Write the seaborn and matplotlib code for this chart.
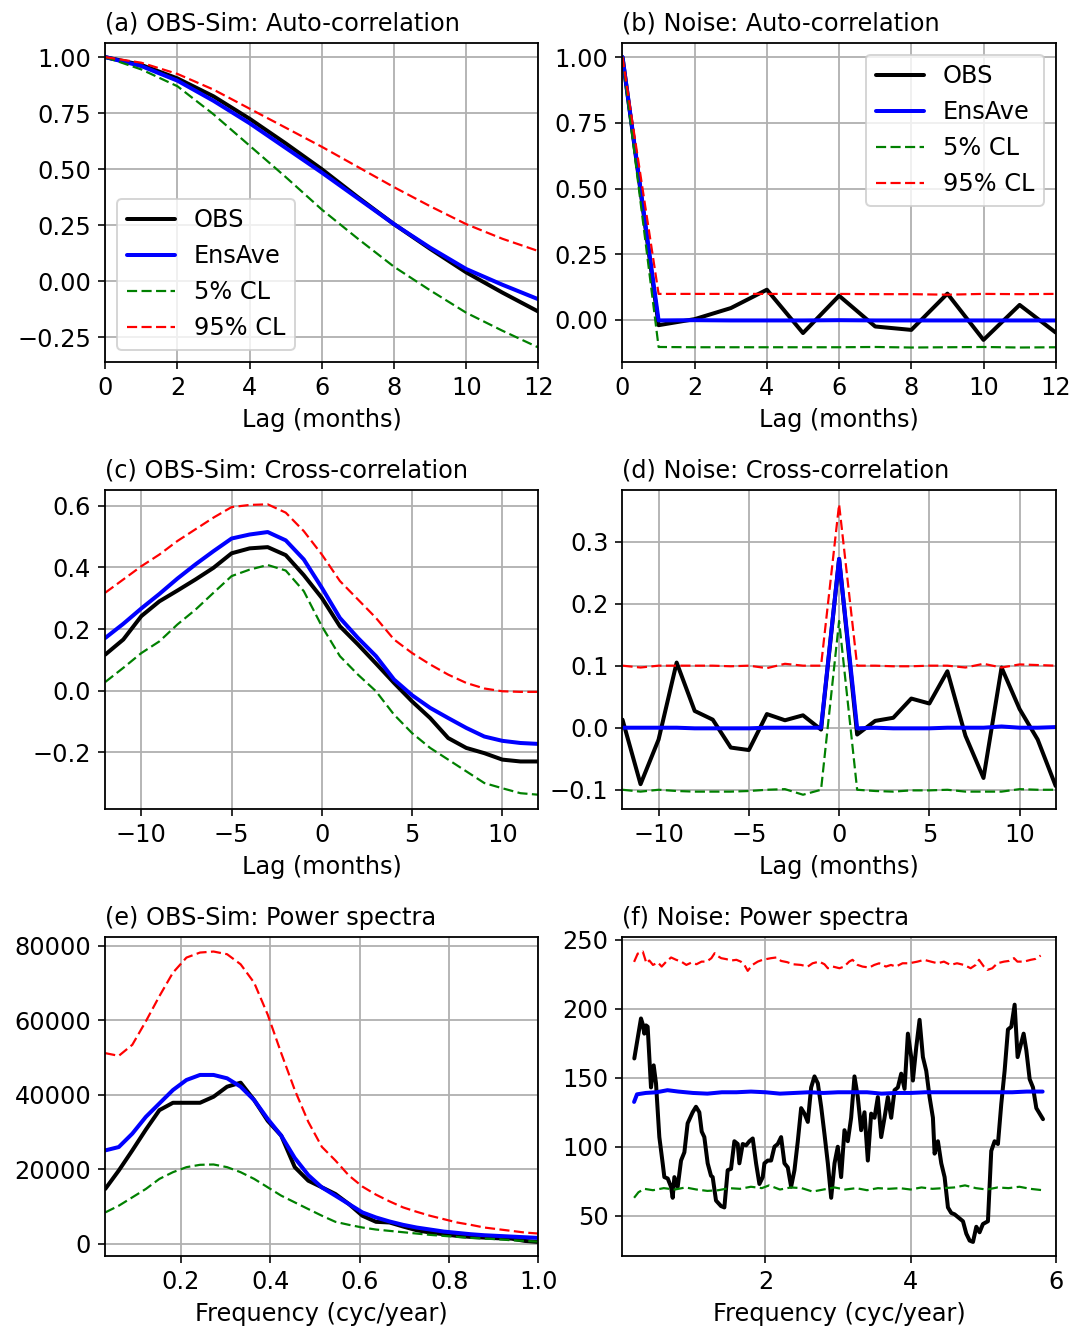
"""
Noise vs OBS-Sim diagnostics: auto-correlation, cross-correlation, power spectra.
Output: out.png
"""

import numpy as np
import pandas as pd
import matplotlib
matplotlib.use("Agg")
import matplotlib.pyplot as plt
import seaborn as sns

# ---- (a) OBS-Sim auto-correlation, lag 0..12 months
acf_lag = [0, 1, 2, 3, 4, 5, 6, 7, 8, 9, 10, 11, 12]
acf_obs = [1.0, 0.965, 0.905, 0.825, 0.725, 0.615, 0.50, 0.375, 0.255, 0.145, 0.04, -0.05, -0.135]
acf_ens = [1.0, 0.96, 0.895, 0.805, 0.705, 0.595, 0.485, 0.37, 0.255, 0.15, 0.055, -0.015, -0.08]
acf_lo = [1.0, 0.945, 0.87, 0.745, 0.605, 0.465, 0.32, 0.19, 0.065, -0.04, -0.14, -0.22, -0.295]
acf_hi = [1.0, 0.975, 0.925, 0.855, 0.77, 0.685, 0.60, 0.51, 0.42, 0.335, 0.255, 0.19, 0.135]

# ---- (b) Noise auto-correlation
nacf_obs = [1.0, -0.02, 0.003, 0.045, 0.115, -0.05, 0.092, -0.025, -0.038, 0.10, -0.076, 0.057, -0.048]
nacf_ens = [1.0, -0.002, -0.001, -0.002, -0.002, -0.002, -0.001, -0.002, -0.002, -0.002, -0.002, -0.002, -0.002]
nacf_lo = [1.0, -0.103, -0.104, -0.104, -0.104, -0.104, -0.104, -0.103, -0.105, -0.104, -0.103, -0.105, -0.104]
nacf_hi = [1.0, 0.099, 0.099, 0.099, 0.099, 0.099, 0.099, 0.098, 0.098, 0.096, 0.099, 0.098, 0.099]

# ---- (c) OBS-Sim cross-correlation, lag -12..12 months
ccf_lag = [-12, -11, -10, -9, -8, -7, -6, -5, -4, -3, -2, -1, 0,
           1, 2, 3, 4, 5, 6, 7, 8, 9, 10, 11, 12]
ccf_obs = [0.117, 0.166, 0.242, 0.29, 0.325, 0.361, 0.399, 0.446, 0.462, 0.466, 0.44, 0.375, 0.301,
           0.209, 0.15, 0.088, 0.025, -0.035, -0.089, -0.154, -0.186, -0.203, -0.224, -0.23, -0.23]
ccf_ens = [0.171, 0.217, 0.267, 0.314, 0.364, 0.41, 0.453, 0.494, 0.507, 0.515, 0.488, 0.426, 0.334,
           0.236, 0.171, 0.112, 0.036, -0.015, -0.056, -0.089, -0.121, -0.149, -0.163, -0.17, -0.173]
ccf_lo = [0.028, 0.074, 0.122, 0.16, 0.215, 0.263, 0.318, 0.372, 0.393, 0.408, 0.39, 0.323, 0.209,
          0.112, 0.052, -0.002, -0.078, -0.138, -0.186, -0.224, -0.262, -0.3, -0.317, -0.333, -0.338]
ccf_hi = [0.318, 0.361, 0.404, 0.442, 0.486, 0.524, 0.562, 0.596, 0.603, 0.605, 0.578, 0.518, 0.442,
          0.356, 0.296, 0.236, 0.166, 0.122, 0.085, 0.052, 0.025, 0.007, -0.002, -0.004, -0.004]

# ---- (d) Noise cross-correlation
nccf_obs = [0.013, -0.091, -0.019, 0.105, 0.027, 0.013, -0.032, -0.036, 0.022, 0.012, 0.02, -0.003, 0.272,
            -0.011, 0.011, 0.016, 0.047, 0.039, 0.091, -0.013, -0.081, 0.097, 0.03, -0.019, -0.094]
nccf_ens = [0.0, 0.0, 0.0, 0.0, -0.001, -0.001, -0.001, -0.001, 0.0, 0.0, 0.0, 0.0, 0.272,
            -0.001, 0.0, -0.001, -0.001, -0.001, 0.0, 0.0, 0.0, 0.002, 0.0, 0.0, 0.001]
nccf_lo = [-0.1, -0.103, -0.1, -0.102, -0.103, -0.103, -0.103, -0.102, -0.1, -0.099, -0.108, -0.1, 0.172,
           -0.1, -0.102, -0.103, -0.101, -0.101, -0.1, -0.103, -0.103, -0.103, -0.099, -0.1, -0.1]
nccf_hi = [0.1, 0.097, 0.1, 0.1, 0.1, 0.1, 0.099, 0.1, 0.096, 0.103, 0.1, 0.1, 0.36,
           0.1, 0.1, 0.099, 0.099, 0.1, 0.1, 0.097, 0.103, 0.097, 0.102, 0.101, 0.1]

# ---- (e) OBS-Sim power spectra, frequency k/33 cyc/year
psd_freq = np.arange(1, 34) / 33.0
psd_obs = [14685, 19640, 25045, 30630, 35856, 37838, 37838, 37838, 39460, 42160, 43240,
           38560, 33000, 29000, 20540, 16900, 15135, 13333, 10630, 7477, 5856, 5676,
           4595, 3604, 2973, 2523, 2072, 1802, 1622, 1441, 1351, 720, 450]
psd_ens = [25045, 25946, 29550, 34054, 37658, 41261, 43964, 45315, 45315, 44414, 42162,
           38558, 33500, 29000, 23000, 18400, 15100, 12883, 10630, 8378, 7027, 5946,
           5045, 4324, 3784, 3243, 2883, 2523, 2252, 2072, 1892, 1712, 1532]
psd_lo = [8378, 10180, 12432, 14685, 17387, 19189, 20540, 21171, 21261, 20540, 19189,
          17387, 15135, 12883, 11081, 9279, 7500, 5856, 5045, 4324, 3784, 3423,
          3063, 2703, 2342, 2072, 1802, 1532, 1351, 1171, 901, 720, 540]
psd_hi = [51171, 50450, 53423, 59730, 66486, 72793, 76847, 78198, 78468, 77748, 75045,
          70090, 61531, 51171, 41261, 32703, 26000, 22342, 18288, 15315, 13153, 11351,
          9730, 8559, 7477, 6577, 5676, 5045, 4324, 3874, 3423, 2973, 2703]

# ---- (f) Noise power spectra
npsd_obs_f = [0.193, 0.285, 0.308, 0.331, 0.354, 0.377, 0.423, 0.46, 0.492, 0.538, 0.584, 0.607,
              0.653, 0.699, 0.722, 0.745, 0.791, 0.837, 0.883, 0.928, 0.997, 1.043, 1.089, 1.122,
              1.158, 1.204, 1.25, 1.273, 1.319, 1.388, 1.434, 1.48, 1.526, 1.572, 1.618, 1.641,
              1.687, 1.733, 1.779, 1.825, 1.871, 1.917, 1.963, 1.986, 2.032, 2.078, 2.124, 2.17,
              2.216, 2.262, 2.308, 2.354, 2.4, 2.446, 2.492, 2.538, 2.584, 2.63, 2.676, 2.722,
              2.768, 2.814, 2.86, 2.906, 2.952, 2.997, 3.043, 3.089, 3.135, 3.181, 3.227, 3.273,
              3.319, 3.365, 3.411, 3.457, 3.503, 3.549, 3.595, 3.641, 3.687, 3.733, 3.779, 3.825,
              3.871, 3.917, 3.963, 4.009, 4.032, 4.078, 4.124, 4.17, 4.216, 4.262, 4.308, 4.331,
              4.377, 4.423, 4.469, 4.515, 4.561, 4.607, 4.653, 4.722, 4.768, 4.814, 4.86, 4.906,
              4.951, 4.997, 5.066, 5.112, 5.158, 5.204, 5.25, 5.296, 5.342, 5.388, 5.434, 5.475,
              5.558, 5.595, 5.641, 5.687, 5.733, 5.779, 5.825]
npsd_obs = [164, 193, 189, 182, 188, 187, 143, 159, 146, 107, 88, 78,
            77, 71, 63, 78, 71, 90, 96, 117, 125, 129, 125, 111,
            107, 88, 79, 78, 61, 57, 56, 83, 84, 104, 102, 88,
            102, 101, 104, 106, 88, 73, 78, 88, 90, 90, 100, 102,
            107, 88, 85, 71, 83, 104, 128, 124, 118, 143, 151, 146,
            129, 109, 88, 63, 88, 100, 78, 112, 104, 121, 151, 136,
            112, 125, 90, 124, 121, 136, 107, 121, 136, 121, 141, 143,
            153, 142, 182, 165, 148, 172, 192, 165, 155, 136, 121, 95,
            104, 88, 78, 56, 52, 51, 49, 46, 37, 32, 31, 42,
            38, 44, 46, 97, 104, 102, 131, 155, 185, 187, 203, 165,
            182, 170, 149, 143, 128, 124, 120]

npsd_ens_f = [0.19, 0.23, 0.35, 0.5, 0.65, 0.8, 1.0, 1.2, 1.4, 1.6, 1.8, 2.0, 2.2, 2.4, 2.6,
              2.8, 3.0, 3.2, 3.4, 3.6, 3.8, 4.0, 4.2, 4.4, 4.6, 4.8, 5.0, 5.2, 5.4, 5.6, 5.82]
npsd_ens = [132.5, 138, 139, 139.5, 141, 140, 139, 138.5, 139.5, 139.5, 140, 139.5, 138.5, 139, 139.5,
            139, 139.5, 139.5, 139.5, 138.5, 139, 139, 139.5, 139.5, 139.5, 139.5, 139.5, 139.5, 139.5, 140, 140]

npsd_lo_f = [0.19, 0.25, 0.33, 0.45, 0.6, 0.75, 0.9, 1.05, 1.2, 1.35, 1.5, 1.65, 1.8, 1.95,
             2.05, 2.2, 2.35, 2.5, 2.65, 2.8, 2.95, 3.1, 3.25, 3.4, 3.55, 3.7, 3.85, 4.0,
             4.15, 4.3, 4.45, 4.6, 4.75, 4.9, 5.05, 5.2, 5.35, 5.5, 5.65, 5.82]
npsd_lo = [63, 67, 69.5, 68.5, 70, 69, 70.5, 69, 68, 68.5, 70, 69.5, 71, 70,
           72, 69, 70.5, 70, 67.5, 69, 70.5, 69, 70, 68.5, 70, 69.5, 70, 69,
           70.5, 69.5, 70, 70.5, 72, 70, 69, 70.5, 70, 71, 69.5, 68.5]

npsd_hi_f = [0.19, 0.24, 0.31, 0.36, 0.40, 0.45, 0.52, 0.57, 0.63, 0.70, 0.77, 0.84, 0.91, 0.98,
             1.05, 1.12, 1.19, 1.255, 1.30, 1.35, 1.39, 1.46, 1.53, 1.60, 1.66, 1.71, 1.756, 1.82,
             1.894, 1.96, 2.078, 2.15, 2.216, 2.30, 2.376, 2.49, 2.583, 2.65, 2.74, 2.813, 2.86,
             2.93, 3.02, 3.085, 3.154, 3.2, 3.27, 3.338, 3.43, 3.50, 3.568, 3.66, 3.73, 3.797,
             3.89, 3.982, 4.096, 4.188, 4.28, 4.372, 4.46, 4.55, 4.64, 4.736, 4.828, 4.897, 4.943,
             5.01, 5.058, 5.127, 5.196, 5.288, 5.356, 5.425, 5.472, 5.564, 5.655, 5.724, 5.793]
npsd_hi = [234, 240, 241.5, 233, 235, 231.8, 233.5, 230.6, 234, 237.2, 235.5, 234.2, 231.8, 233.5,
           232.3, 234.2, 234.2, 236.7, 240.3, 238, 236.7, 236, 235, 235.5, 234.2, 231.8, 227.5, 231.8,
           234.2, 235.5, 236.7, 237.2, 234.7, 233.8, 232.3, 231.8, 230.6, 233, 234.2, 232.3, 229.4,
           230.6, 229.4, 230.6, 234.2, 235.5, 231.8, 230.6, 229.9, 231.8, 233, 230.6, 231.8, 230.6,
           233, 233, 234.2, 235.5, 234.2, 233, 234.2, 231.8, 233, 231.8, 229.4, 231.8, 235.5,
           230.6, 228.2, 229.4, 233, 234.2, 234.7, 236.7, 234.2, 234.2, 235.5, 236.2, 238.6]

# ---- style
sns.set_theme(style="ticks", rc={
    "font.size": 12, "axes.titlesize": 12, "axes.labelsize": 12,
    "xtick.labelsize": 12, "ytick.labelsize": 12, "legend.fontsize": 12,
    "axes.edgecolor": "black", "axes.linewidth": 0.9,
    "xtick.color": "black", "ytick.color": "black", "text.color": "black",
    "axes.labelcolor": "black",
    "xtick.major.size": 3.5, "ytick.major.size": 3.5,
    "xtick.major.width": 0.8, "ytick.major.width": 0.8,
})
plt.rcParams["font.family"] = ["DejaVu Sans"]

C_OBS, C_ENS, C_LO, C_HI = "#000000", "#0000ff", "#008000", "#ff0000"

fig, axes = plt.subplots(3, 2, figsize=(1085 / 144, 1331 / 144), dpi=144)
fig.subplots_adjust(left=0.097, right=0.973, top=0.968, bottom=0.056,
                    wspace=0.194, hspace=0.40)


def draw(ax, x_obs, obs, x_ens, ens, x_lo, lo, x_hi, hi):
    sns.lineplot(x=x_obs, y=obs, ax=ax, color=C_OBS, lw=2, label="OBS", legend=False)
    sns.lineplot(x=x_ens, y=ens, ax=ax, color=C_ENS, lw=2, label="EnsAve", legend=False)
    sns.lineplot(x=x_lo, y=lo, ax=ax, color=C_LO, lw=1.1, dashes=False, label="5% CL",
                 legend=False).lines[-1].set_dashes((4.6, 2.0))
    sns.lineplot(x=x_hi, y=hi, ax=ax, color=C_HI, lw=1.1, dashes=False, label="95% CL",
                 legend=False).lines[-1].set_dashes((4.6, 2.0))
    ax.grid(True, color="#b0b0b0", lw=0.9)
    ax.set_axisbelow(True)
    for s in ax.spines.values():
        s.set_visible(True)


ax = axes[0, 0]
draw(ax, acf_lag, acf_obs, acf_lag, acf_ens, acf_lag, acf_lo, acf_lag, acf_hi)
ax.set_xlim(0, 12)
ax.set_title("(a) OBS-Sim: Auto-correlation", loc="left")
ax.set_xlabel("Lag (months)")
ax.legend(loc="lower left")

ax = axes[0, 1]
draw(ax, acf_lag, nacf_obs, acf_lag, nacf_ens, acf_lag, nacf_lo, acf_lag, nacf_hi)
ax.set_xlim(0, 12)
ax.set_title("(b) Noise: Auto-correlation", loc="left")
ax.set_xlabel("Lag (months)")
ax.legend(loc="upper right")

ax = axes[1, 0]
draw(ax, ccf_lag, ccf_obs, ccf_lag, ccf_ens, ccf_lag, ccf_lo, ccf_lag, ccf_hi)
ax.set_xlim(-12, 12)
ax.set_title("(c) OBS-Sim: Cross-correlation", loc="left")
ax.set_xlabel("Lag (months)")

ax = axes[1, 1]
draw(ax, ccf_lag, nccf_obs, ccf_lag, nccf_ens, ccf_lag, nccf_lo, ccf_lag, nccf_hi)
ax.set_xlim(-12, 12)
ax.set_title("(d) Noise: Cross-correlation", loc="left")
ax.set_xlabel("Lag (months)")

ax = axes[2, 0]
draw(ax, psd_freq, psd_obs, psd_freq, psd_ens, psd_freq, psd_lo, psd_freq, psd_hi)
ax.set_xlim(psd_freq[0], 1.0)
ax.set_title("(e) OBS-Sim: Power spectra", loc="left")
ax.set_xlabel("Frequency (cyc/year)")

ax = axes[2, 1]
draw(ax, npsd_obs_f, npsd_obs, npsd_ens_f, npsd_ens, npsd_lo_f, npsd_lo, npsd_hi_f, npsd_hi)
ax.set_xlim(psd_freq[0], 6.0)
ax.set_xticks([2, 4, 6])
ax.set_title("(f) Noise: Power spectra", loc="left")
ax.set_xlabel("Frequency (cyc/year)")

fig.savefig("out.png", dpi=144)
print("saved out.png")
